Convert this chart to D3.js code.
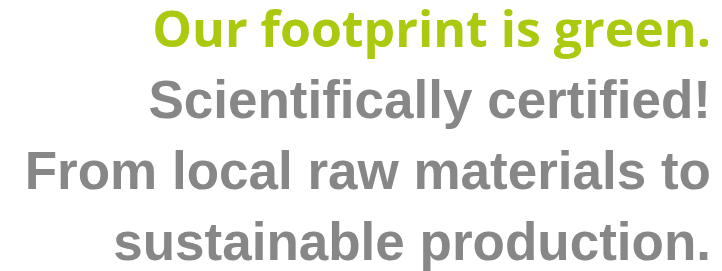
<!DOCTYPE html>
<html>
<head>
<meta charset="utf-8">
<script src="https://cdn.jsdelivr.net/npm/d3@7"></script>
<style>
  html, body { margin: 0; padding: 0; background: #fff; }
</style>
</head>
<body>
<div id="chart"></div>
<script>
// text lines, top to bottom
const lines = [
	"Our footprint is green.",
	"Scientifically certified!",
	"From local raw materials to",
	"sustainable production.",
]
const lineKinds = ["headline", "body", "body", "body"]

const width = 722
const height = 271

const svg = d3
	.select("#chart")
	.append("svg")
	.attr("width", width)
	.attr("height", height)

// baselines spaced evenly
const y = d3.scalePoint().domain(d3.range(lines.length)).range([47, 260])

const styles = {
	headline: { family: "'Open Sans', sans-serif", size: 50, color: "#abc90f" },
	body: { family: "'Liberation Sans', Arial, sans-serif", size: 53, color: "#878787" },
}

svg.selectAll("text")
	.data(lines)
	.join("text")
	.attr("x", 711)
	.attr("y", (d, i) => y(i))
	.attr("text-anchor", "end")
	.style("font-family", (d, i) => styles[lineKinds[i]].family)
	.style("font-size", (d, i) => styles[lineKinds[i]].size + "px")
	.style("font-weight", "bold")
	.style("fill", (d, i) => styles[lineKinds[i]].color)
	.text((d) => d)
</script>
</body>
</html>
